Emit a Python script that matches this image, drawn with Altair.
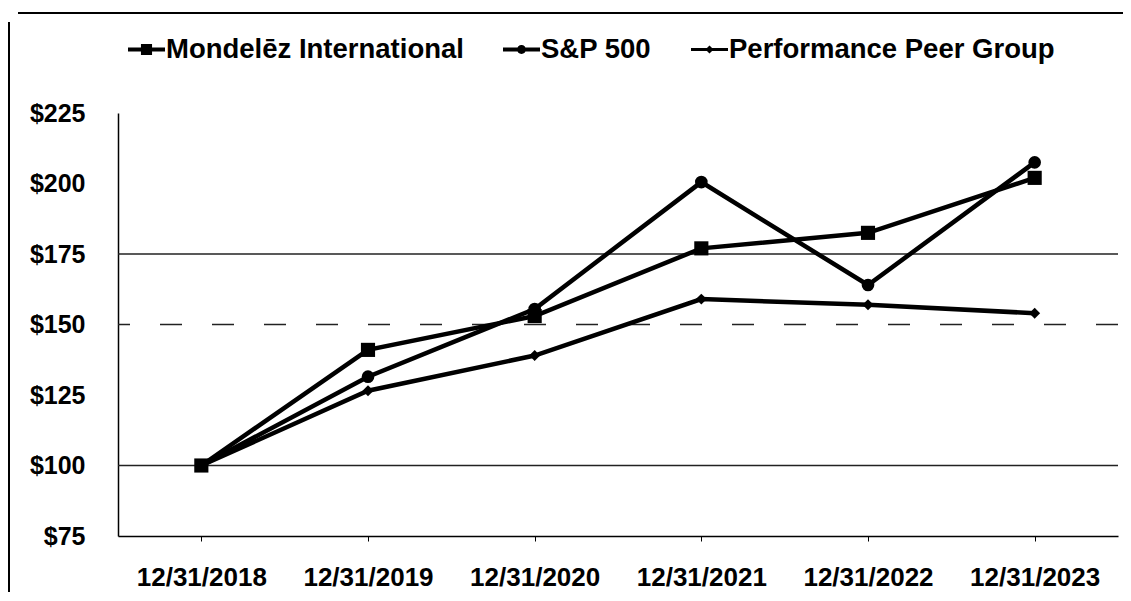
import altair as alt
import pandas as pd

# ---- data ----
dates = ["12/31/2018", "12/31/2019", "12/31/2020", "12/31/2021", "12/31/2022", "12/31/2023"]
series_names = ["Mondelēz International", "S&P 500", "Performance Peer Group"]
mondelez = [100, 141, 153, 177, 182.5, 202]
sp500 = [100, 131.5, 155.5, 200.5, 164, 207.5]
peer = [100, 126.5, 139, 159, 157, 154]
y_ticks = [75, 100, 125, 150, 175, 200, 225]
grid_solid = [100, 175]
grid_dashed = [150]

rows = []
for name, vals in zip(series_names, [mondelez, sp500, peer]):
    for d, v in zip(dates, vals):
        rows.append({"Date": d, "Series": name, "Value": v})
df = pd.DataFrame(rows)

FONT = "Liberation Sans"

x_enc = alt.X(
    "Date:N",
    sort=dates,
    scale=alt.Scale(type="point", padding=0.5),
    axis=alt.Axis(
        title=None, labelAngle=0, labelFont=FONT, labelFontWeight="bold",
        labelFontSize=26, labelColor="black", labelPadding=23,
        tickSize=5, tickColor="black", tickWidth=1,
        domainColor="black", domainWidth=1.5, grid=False,
    ),
)
y_enc = alt.Y(
    "Value:Q",
    scale=alt.Scale(domain=[75, 225], nice=False, zero=False),
    axis=alt.Axis(
        title=None, values=y_ticks, labelExpr="'$' + datum.value",
        labelFont=FONT, labelFontWeight="bold", labelFontSize=25,
        labelColor="black", labelPadding=33, ticks=False,
        domainColor="black", domainWidth=1.5, grid=False,
    ),
)

grid1 = alt.Chart(pd.DataFrame({"Value": grid_solid})).mark_rule(
    color="#222222", strokeWidth=1.5
).encode(y=alt.Y("Value:Q"))

grid2 = alt.Chart(pd.DataFrame({"Value": grid_dashed})).mark_rule(
    color="#222222", strokeWidth=1.5, strokeDash=[22, 30]
).encode(y=alt.Y("Value:Q"))

lines = alt.Chart(df).mark_line(color="black").encode(
    x=x_enc,
    y=y_enc,
    detail="Series:N",
    strokeWidth=alt.StrokeWidth(
        "Series:N",
        scale=alt.Scale(domain=series_names, range=[4.5, 4.5, 3]),
        legend=None,
    ),
)

points = alt.Chart(df).mark_point(filled=True, color="black", opacity=1).encode(
    x=x_enc,
    y=y_enc,
    shape=alt.Shape(
        "Series:N",
        scale=alt.Scale(domain=series_names, range=["square", "circle", "diamond"]),
        legend=None,
    ),
    size=alt.Size(
        "Series:N",
        scale=alt.Scale(domain=series_names, range=[200, 120, 90]),
        legend=None,
    ),
)

# legend glyphs: a short line (as a thin filled bar) with the series marker on it
legend_paths = [
    "M-1,-0.11H1V0.11H-1ZM-0.3,-0.3H0.3V0.3H-0.3Z",
    "M-1,-0.11H1V0.11H-1ZM-0.24,0A0.24,0.24,0,1,1,0.24,0A0.24,0.24,0,1,1,-0.24,0Z",
    "M-1,-0.08H1V0.08H-1ZM0,-0.22L0.22,0L0,0.22L-0.22,0Z",
]

legend_layer = alt.Chart(df).transform_filter("false").mark_point(
    filled=True, color="black", size=1369, opacity=1
).encode(
    x=x_enc,
    y=y_enc,
    shape=alt.Shape(
        "Series:N",
        scale=alt.Scale(domain=series_names, range=legend_paths),
        legend=alt.Legend(
            orient="none", legendX=10, legendY=-82, direction="horizontal",
            title=None, labelFont=FONT, labelFontWeight="bold", labelFontSize=27.5,
            labelColor="black", labelLimit=600, labelOffset=1, columnPadding=39,
            symbolSize=1369, padding=0, symbolFillColor="black",
            symbolStrokeWidth=0, symbolOpacity=1,
        ),
    ),
)

frame_v = alt.Chart(pd.DataFrame({"k": [0]})).mark_rule(
    color="black", strokeWidth=2
).encode(x=alt.value(-109), y=alt.value(-91), y2=alt.value(480))
frame_h = alt.Chart(pd.DataFrame({"k": [0]})).mark_rule(
    color="black", strokeWidth=2
).encode(x=alt.value(-100), x2=alt.value(1005), y=alt.value(-100))

chart = alt.layer(
    grid1, grid2, lines, points, legend_layer, frame_v, frame_h
).resolve_scale(
    shape="independent", size="independent", strokeWidth="independent"
).resolve_legend(
    shape="independent"
).properties(
    width=1000, height=423,
    padding={"left": 110, "top": 105, "right": 5, "bottom": 56},
    autosize=alt.AutoSizeParams(type="none"),
    background="white",
).configure_view(stroke=None)

chart.save("out.html", embed_options={"renderer": "svg", "actions": False})
